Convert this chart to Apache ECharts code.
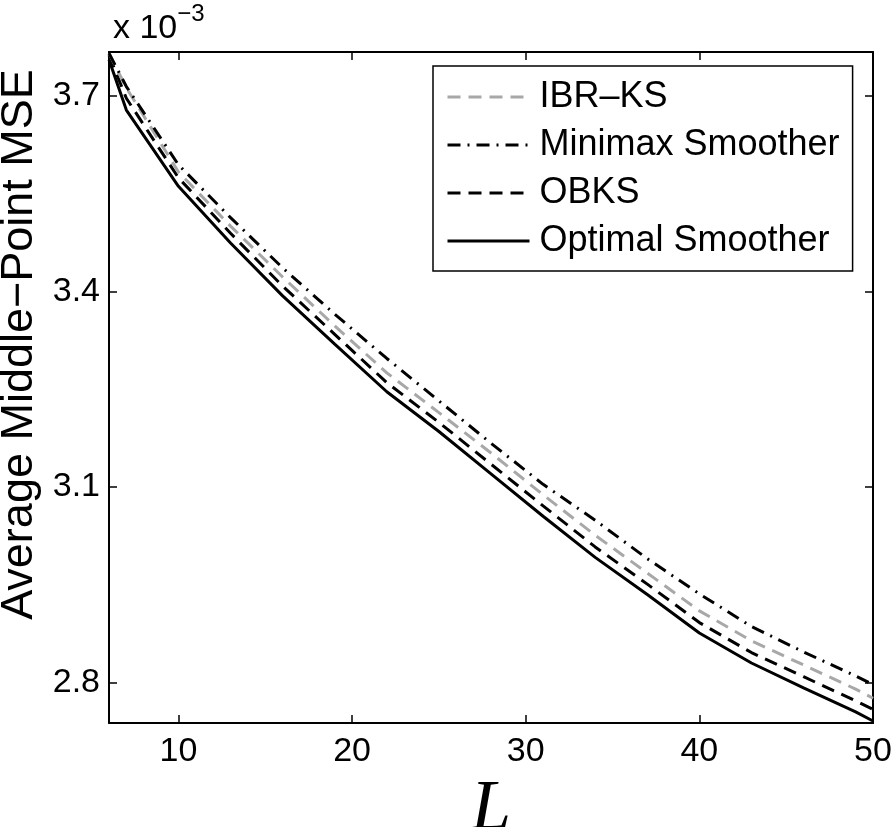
<!DOCTYPE html>
<html>
<head>
<meta charset="utf-8">
<script src="https://cdn.jsdelivr.net/npm/echarts@6/dist/echarts.min.js"></script>
<style>
html,body{margin:0;padding:0;background:#fff;}
#chart{width:894px;height:827px;}
</style>
</head>
<body>
<div id="chart"></div>
<script>
// L values (x axis)
var L = [6, 7, 10, 13, 16, 19, 22, 25, 28, 31, 34, 37, 40, 43, 46, 49, 50];
// Average middle-point MSE (x 10^-3)
var ibrKS   = [3.765, 3.712, 3.583, 3.500, 3.422, 3.347, 3.275, 3.214, 3.152, 3.088, 3.026, 2.968, 2.910, 2.864, 2.827, 2.790, 2.776];
var minimax = [3.765, 3.714, 3.594, 3.513, 3.436, 3.365, 3.297, 3.232, 3.167, 3.104, 3.049, 2.990, 2.936, 2.886, 2.847, 2.810, 2.797];
var obks    = [3.762, 3.696, 3.574, 3.489, 3.408, 3.334, 3.260, 3.199, 3.135, 3.071, 3.008, 2.951, 2.892, 2.846, 2.809, 2.772, 2.759];
var optimal = [3.755, 3.678, 3.561, 3.474, 3.393, 3.319, 3.246, 3.185, 3.120, 3.055, 2.992, 2.935, 2.876, 2.830, 2.792, 2.755, 2.741];
var seriesNames = ['IBR\u2013KS', 'Minimax Smoother', 'OBKS', 'Optimal Smoother'];
var xTicks = [10, 20, 30, 40, 50];
var yTicks = [2.8, 3.1, 3.4, 3.7];

function pairs(ys){ return L.map(function(x,i){ return [x, ys[i]]; }); }

var FONT = '"Liberation Sans", Arial, Helvetica, sans-serif';
var chart = echarts.init(document.getElementById('chart'), null, {renderer:'canvas'});

var axisLineStyle = {show:true, lineStyle:{color:'#000', width:2}};
var tickStyle = {show:true, inside:true, length:8, lineStyle:{color:'#000', width:1.5}};

var option = {
  backgroundColor:'#fff',
  animation:false,
  title:{
    left:108, top:-3,
    text:'{a|x 10}{b|\u22123}',
    textStyle:{
      fontWeight:'normal',
      rich:{
        a:{fontFamily:FONT, fontSize:34, fontWeight:'normal', color:'#000', verticalAlign:'bottom', lineHeight:44},
        b:{fontFamily:FONT, fontSize:24, fontWeight:'normal', color:'#000', verticalAlign:'top', lineHeight:44, padding:[0,0,22,0]}
      }
    }
  },
  grid:{left:109, right:21, top:52, bottom:104, containLabel:false, outerBoundsMode:'none'},
  legend:{
    data:seriesNames,
    orient:'vertical',
    left:433, top:66,
    backgroundColor:'#fff',
    borderColor:'#000', borderWidth:1.5,
    padding:[13,13,12,13],
    itemWidth:82, itemHeight:20, itemGap:12,
    itemStyle:{opacity:0},
    lineStyle:{width:3},
    textStyle:{fontFamily:FONT, fontSize:36, color:'#000', lineHeight:35, padding:[0,0,0,5]}
  },
  xAxis:[{
    type:'value', min:6, max:50, position:'bottom',
    axisLine:axisLineStyle,
    axisTick:Object.assign({customValues:xTicks}, tickStyle),
    axisLabel:{customValues:xTicks, fontFamily:FONT, fontSize:34, color:'#000', margin:12},
    splitLine:{show:false},
    name:'L', nameLocation:'middle', nameGap:22,
    nameTextStyle:{fontFamily:'"Liberation Serif", "Times New Roman", serif', fontStyle:'italic', fontSize:72, color:'#000'}
  },{
    type:'value', min:6, max:50, position:'top',
    axisLine:axisLineStyle,
    axisTick:Object.assign({customValues:xTicks}, tickStyle),
    axisLabel:{show:false},
    splitLine:{show:false}
  }],
  yAxis:[{
    type:'value', min:2.738, max:3.767, position:'left',
    axisLine:axisLineStyle,
    axisTick:Object.assign({customValues:yTicks}, tickStyle),
    axisLabel:{customValues:yTicks, fontFamily:FONT, fontSize:34, color:'#000', margin:9,
      formatter:function(v){ return v.toFixed(1); }},
    splitLine:{show:false},
    name:'Average Middle\u2212Point MSE', nameLocation:'middle', nameGap:66, nameRotate:90,
    nameTextStyle:{fontFamily:FONT, fontSize:45, color:'#000', padding:[0,0,0,86]}
  },{
    type:'value', min:2.738, max:3.767, position:'right',
    axisLine:axisLineStyle,
    axisTick:Object.assign({customValues:yTicks}, tickStyle),
    axisLabel:{show:false},
    splitLine:{show:false}
  }],
  series:[
    {name:seriesNames[3], type:'line', data:pairs(optimal), showSymbol:false, symbol:'none',
      lineStyle:{color:'#000', width:3, type:'solid'}, itemStyle:{color:'#000'}, z:2},
    {name:seriesNames[2], type:'line', data:pairs(obks), showSymbol:false, symbol:'none',
      lineStyle:{color:'#000', width:3, type:[13,8]}, itemStyle:{color:'#000'}, z:3},
    {name:seriesNames[0], type:'line', data:pairs(ibrKS), showSymbol:false, symbol:'none',
      lineStyle:{color:'#a8a8a8', width:3, type:[13,8]}, itemStyle:{color:'#a8a8a8'}, z:4},
    {name:seriesNames[1], type:'line', data:pairs(minimax), showSymbol:false, symbol:'none',
      lineStyle:{color:'#000', width:3, type:[13,7,2,7]}, itemStyle:{color:'#000'}, z:5}
  ]
};
chart.setOption(option);
</script>
</body>
</html>
